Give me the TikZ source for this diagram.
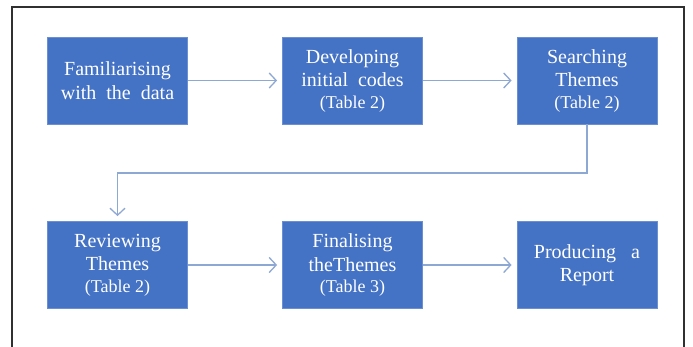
\documentclass[tikz,border=0pt]{standalone}
\usepackage{fontspec}
\setmainfont{Liberation Serif}
\usetikzlibrary{arrows.meta}
\definecolor{boxblue}{HTML}{4472C4}
\definecolor{boxedge}{HTML}{6A8FD2}
\definecolor{arrowblue}{HTML}{8EA8D4}
\definecolor{framegray}{HTML}{303030}
\tikzset{
  stage/.style={rectangle, fill=boxblue, draw=boxedge, line width=0.8pt,
    minimum width=140pt, minimum height=87pt, inner sep=0pt,
    text=white, align=center, font=\fontsize{20}{23.5}\selectfont},
  arr/.style={draw=arrowblue, line width=1.3pt,
    -{Straight Barb[length=7pt,width=15pt,line width=1.3pt]}, shorten >=5pt}
}
\newcommand{\tablenote}[1]{\\[-2pt]{\fontsize{18}{20}\selectfont #1}}
\begin{document}
\begin{tikzpicture}[x=1pt,y=1pt]
\useasboundingbox (0,0) rectangle (693,347);
\fill[white] (0,0) rectangle (693,347);
\draw[framegray, line width=1.4pt] (12,0) -- (12,340) -- (684,340) -- (684,0);
\node[stage] (b1) at (117.5,266.5) {Familiarising\\with\ \ the\ \ data};
\node[stage] (b2) at (352.5,266.5) {Developing\\initial\ \ codes\tablenote{(Table 2)}};
\node[stage] (b3) at (587,266.5) {Searching\\Themes\tablenote{(Table 2)}};
\node[stage] (b4) at (117.5,82) {Reviewing\\Themes\tablenote{(Table 2)}};
\node[stage] (b5) at (352.5,82) {Finalising\\theThemes\tablenote{(Table 3)}};
\node[stage] (b6) at (587,82) {Producing\ \ \ a\\Report};
\coordinate (mid) at (0,174);
\draw[arr] (b1) -- (b2);
\draw[arr] (b2) -- (b3);
\draw[arr] (b3.south) -- (b3.south |- mid) -| (b4.north);
\draw[arr] (b4) -- (b5);
\draw[arr] (b5) -- (b6);
\end{tikzpicture}
\end{document}
